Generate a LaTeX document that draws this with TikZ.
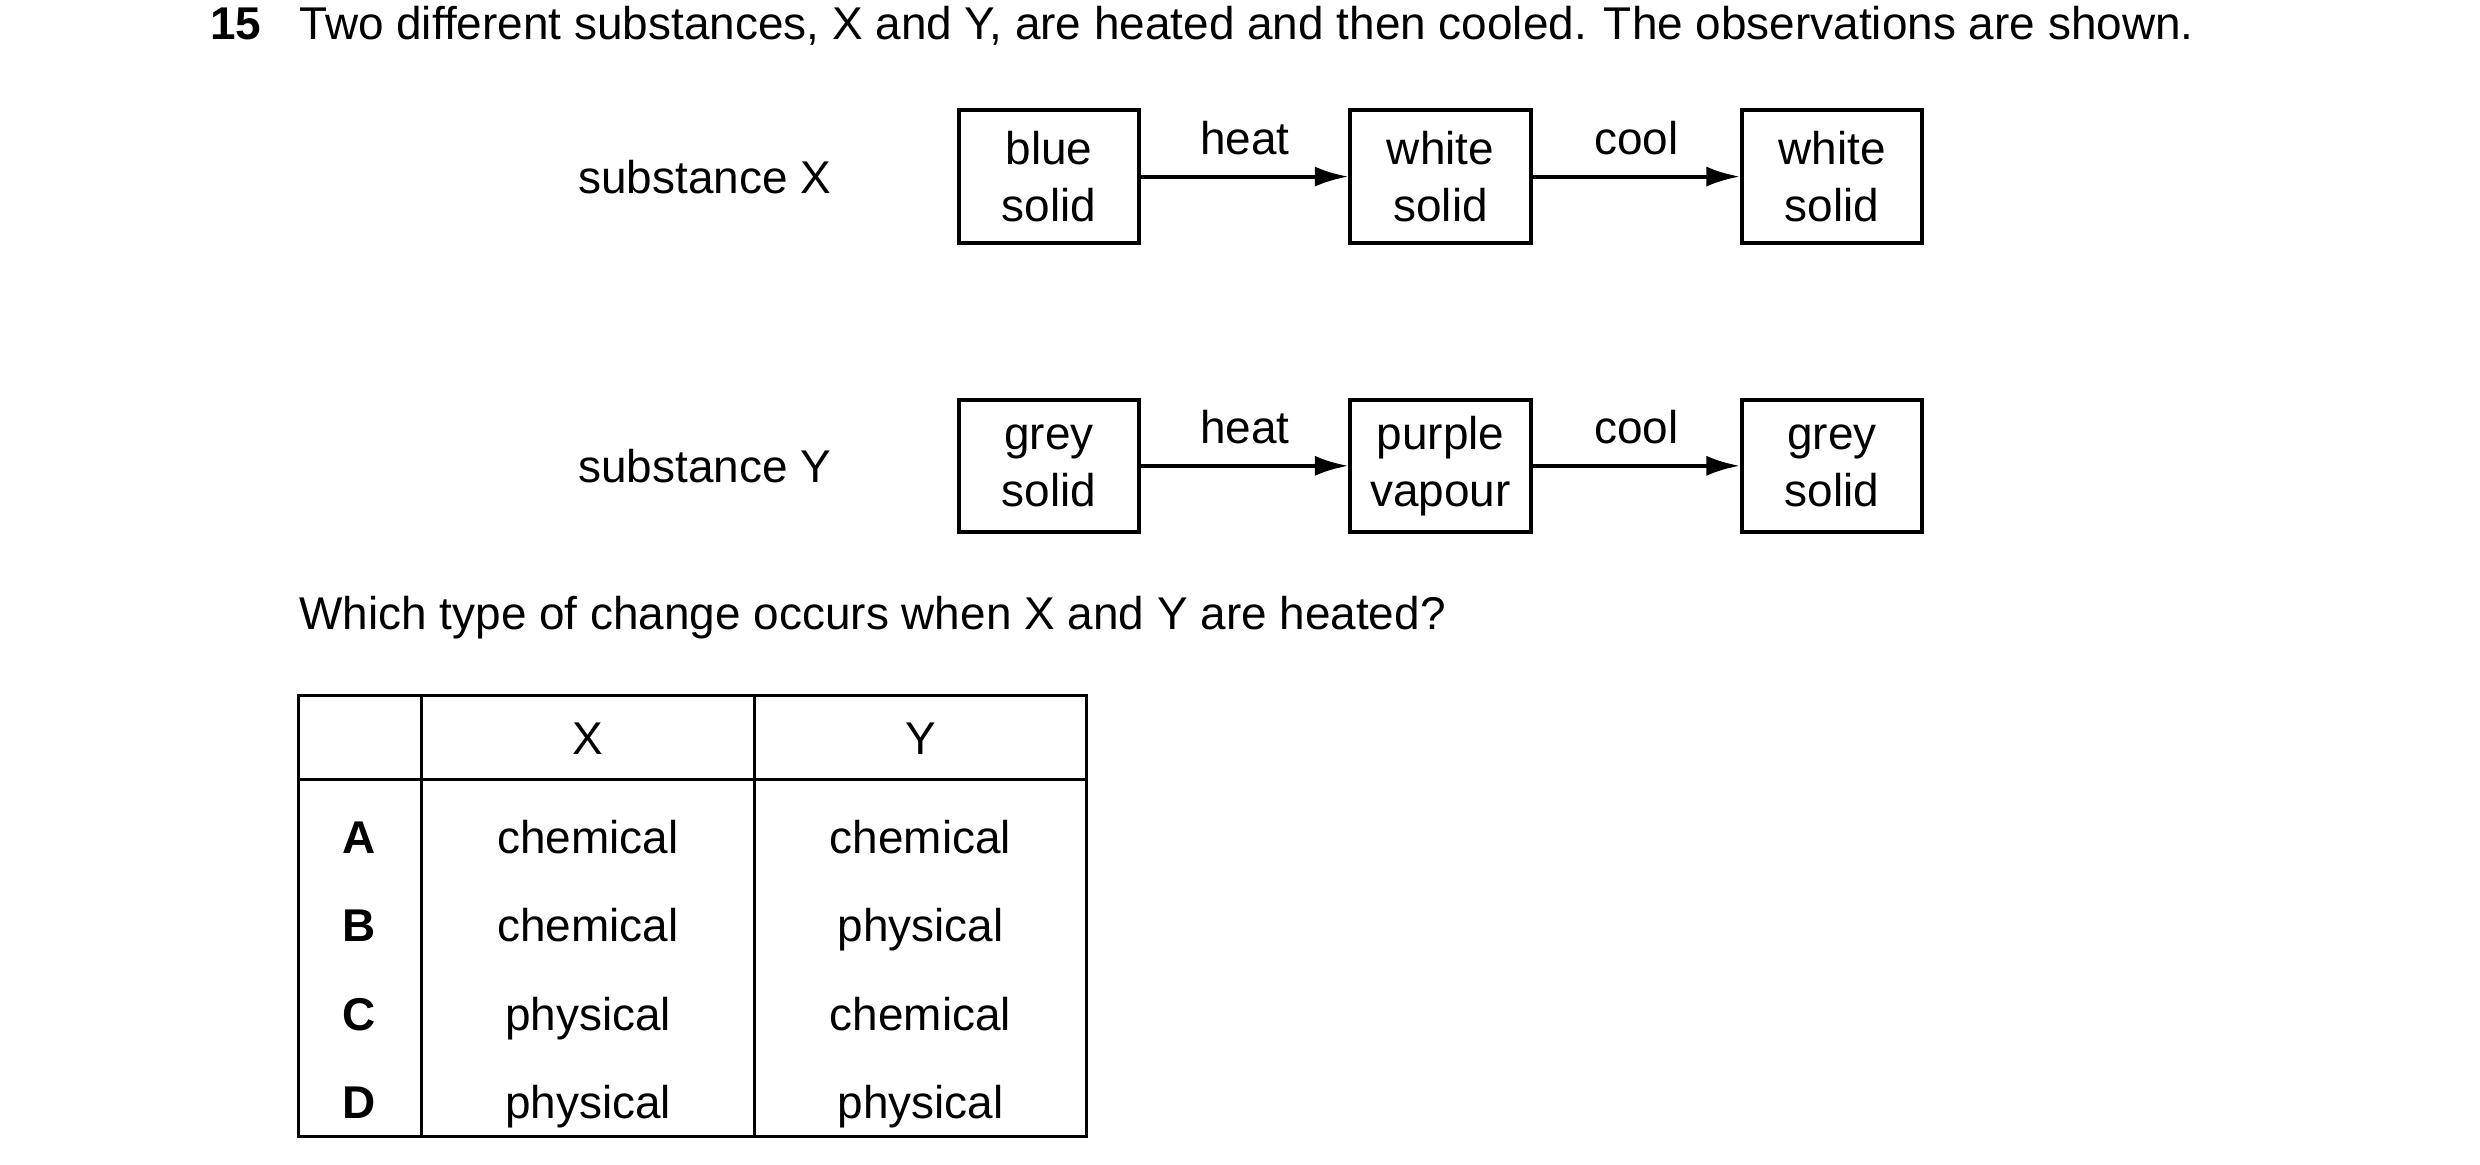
\documentclass[tikz,border=0pt]{standalone}
\usepackage{fontspec}
\setmainfont{Liberation Sans}
\usetikzlibrary{arrows.meta}
\tikzset{box/.style={draw,line width=1.2pt,minimum width=1.89cm,minimum height=1.39cm,align=center,inner sep=0pt,font=\fontsize{13.7}{17}\selectfont},
  txt/.style={font=\fontsize{13.7}{17}\selectfont,inner sep=0pt,anchor=base},
  arr/.style={line width=1.2pt,-{Latex[length=10pt,width=6pt]}}}
\begin{document}
\begin{tikzpicture}[x=0.01675cm,y=-0.01675cm]
  \useasboundingbox (0,0) rectangle (1552,729);
  \node[txt,anchor=base west,font=\fontsize{13.7}{17}\selectfont\bfseries] (num) at (131,25) {15};
  \node[txt,anchor=base west] (title) at (187,25) {Two different substances, X and Y, are heated and then cooled. The observations are shown.};
  % substance X
  \node[txt] (sx) at (441,121) {substance X};
  \node[box] (x1) at (656.5,110.5) {blue\\solid};
  \node[box] (x2) at (901.5,110.5) {white\\solid};
  \node[box] (x3) at (1146.5,110.5) {white\\solid};
  \draw[arr] (x1) -- node[txt,above=6pt,anchor=south] {heat} (x2);
  \draw[arr] (x2) -- node[txt,above=6pt,anchor=south] {cool} (x3);
  % substance Y
  \node[txt] (sy) at (441,302) {substance Y};
  \node[box] (y1) at (656.5,291.5) {grey\\solid};
  \node[box] (y2) at (901.5,291.5) {purple\\vapour};
  \node[box] (y3) at (1146.5,291.5) {grey\\solid};
  \draw[arr] (y1) -- node[txt,above=6pt,anchor=south] {heat} (y2);
  \draw[arr] (y2) -- node[txt,above=6pt,anchor=south] {cool} (y3);
  \node[txt,anchor=base west] (q) at (187,394) {Which type of change occurs when X and Y are heated?};
  % table
  \draw[line width=0.9pt] (187,435) rectangle (680,711);
  \draw[line width=0.9pt] (264,435) -- (264,711) (472,435) -- (472,711) (187,488) -- (680,488);
  \node[txt] (hx) at (368,472) {X};
  \node[txt] (hy) at (576,472) {Y};
  \foreach \l/\a/\b/\yy in {A/chemical/chemical/534,B/chemical/physical/589,C/physical/chemical/645,D/physical/physical/700}{
    \node[txt,font=\fontsize{13.7}{17}\selectfont\bfseries] at (225,\yy) {\l};
    \node[txt] at (368,\yy) {\a};
    \node[txt] at (576,\yy) {\b};
  }
\end{tikzpicture}
\end{document}
